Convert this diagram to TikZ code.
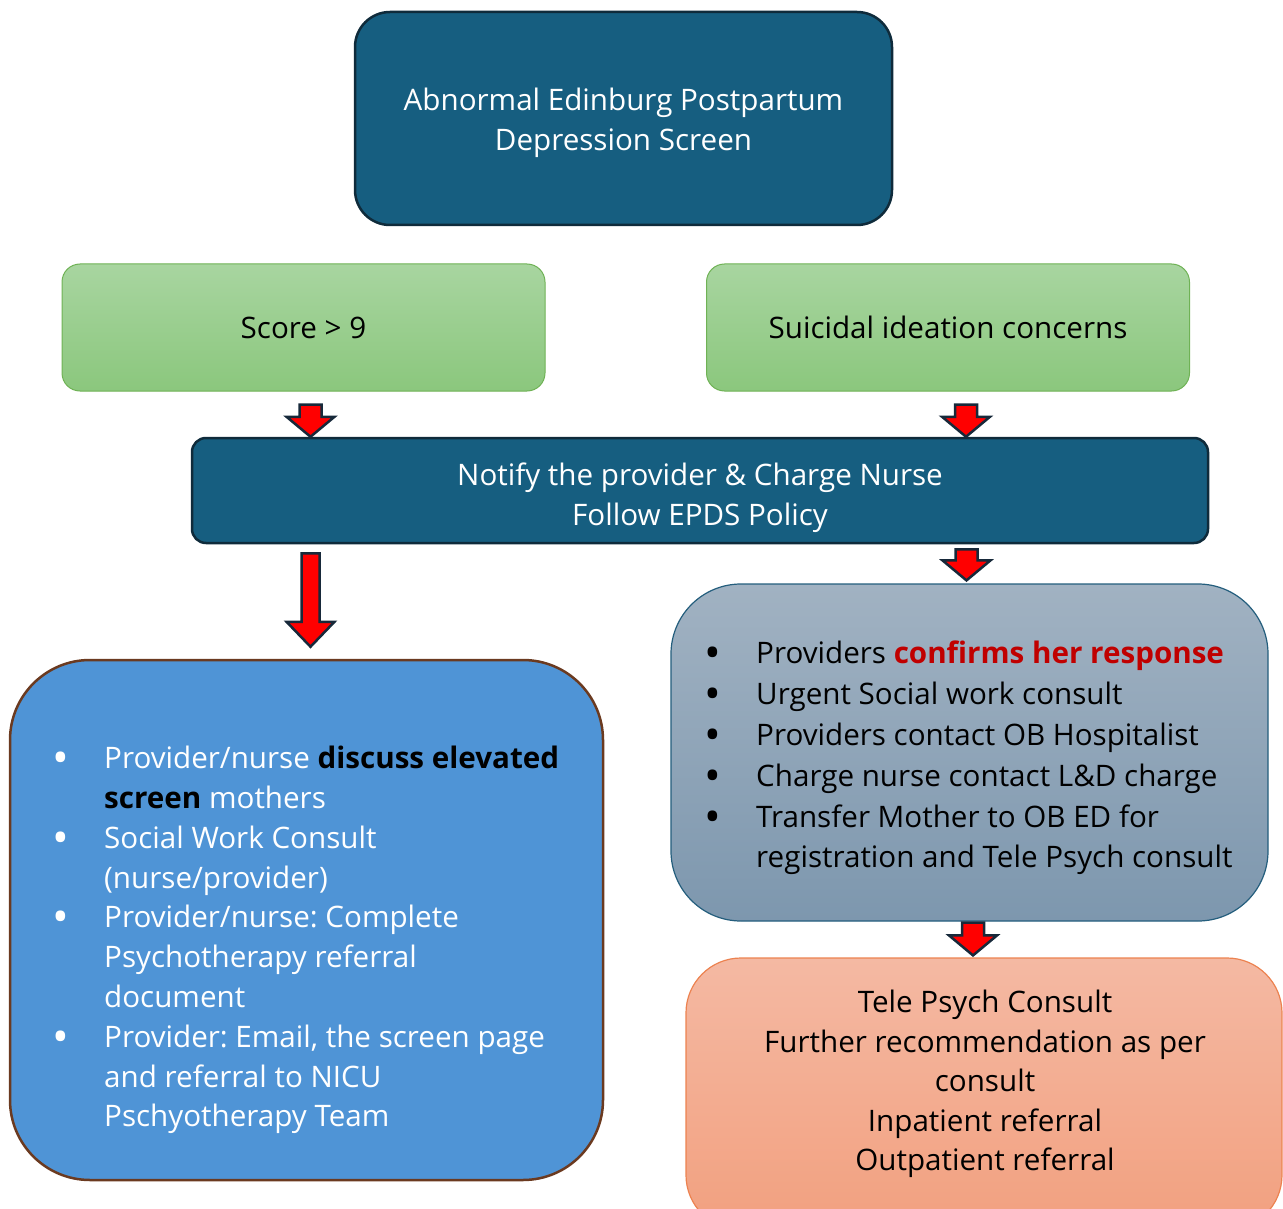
\documentclass[tikz,border=0pt]{standalone}
\usepackage{fontspec}
\setmainfont{Open Sans}
\usetikzlibrary{calc,positioning}
\frenchspacing
\definecolor{tealfill}{HTML}{165E80}
\definecolor{tealedge}{HTML}{0F2B3B}
\definecolor{greentop}{HTML}{A8D5A0}
\definecolor{greenbot}{HTML}{8BC77D}
\definecolor{greenedge}{HTML}{6FB255}
\definecolor{bluefill}{HTML}{4F94D6}
\definecolor{brownedge}{HTML}{6B3A20}
\definecolor{greytop}{HTML}{A1B2C2}
\definecolor{greybot}{HTML}{7D97AE}
\definecolor{greyedge}{HTML}{245E7D}
\definecolor{salmontop}{HTML}{F4B9A3}
\definecolor{salmonbot}{HTML}{F2A07F}
\definecolor{salmonedge}{HTML}{EC8250}
\definecolor{arrowedge}{HTML}{17293A}
\definecolor{alertred}{HTML}{C00000}
\newcommand{\boxfont}{\fontsize{29.6}{39.5}\selectfont}
\newcommand{\bul}{\llap{\raisebox{-5pt}{\scalebox{1.5}{\textbullet}}\hspace{35pt}}}
\tikzset{
    darkbox/.style = {draw=tealedge, line width=2.5pt, fill=tealfill,
        text=white, align=center, font=\boxfont},
    greenbox/.style = {draw=greenedge, line width=1pt,
        top color=greentop, bottom color=greenbot,
        rounded corners=18pt, minimum width=483pt, minimum height=127pt,
        font=\boxfont},
    listtext/.style = {align=left, inner sep=0pt, anchor=north west, font=\boxfont},
    redarrow/.style = {draw=arrowedge, line width=2.5pt, fill=red, line join=miter}
}
% block arrow: start, tip, shaft half width, head length
\newcommand{\blockarrow}[4]{%
    \draw[redarrow] let \p1=(#1), \p2=(#2) in
        (\x1-#3pt,\y1) -- (\x1+#3pt,\y1) -- (\x1+#3pt,\y2+#4pt)
        -- (\x1+24pt,\y2+#4pt) -- (\x2,\y2) -- (\x1-24pt,\y2+#4pt)
        -- (\x1-#3pt,\y2+#4pt) -- cycle;}

\begin{document}
\begin{tikzpicture}[x=1pt, y=-1pt]
    \useasboundingbox (0,0) rectangle (1283,1209);
    \clip (0,0) rectangle (1283,1209);
    \node[darkbox, rounded corners=35pt, minimum width=537pt, minimum height=213pt]
        (edinburgh) at (623.5,118.5) {\rule{0pt}{31pt}Abnormal Edinburg Postpartum\\Depression Screen};
    \node[greenbox] (score) at (303.5,327.5) {Score > 9};
    \node[greenbox] (suicidal) at (948,327.5) {Suicidal ideation concerns};
    \node[darkbox, rounded corners=14pt, minimum width=1016pt, minimum height=105pt]
        (notify) at (700,490.5) {\rule{0pt}{37pt}Notify the provider \& Charge Nurse\\Follow EPDS Policy};

    \node[draw=brownedge, line width=2.5pt, fill=bluefill, rounded corners=80pt,
        minimum width=593pt, minimum height=520pt] (elevated) at (306.5,920) {};
    \node[listtext, text=white, font=\fontsize{29.6}{39.8}\selectfont] (elevatedlist) at (104,746) {%
        \bul Provider/nurse \textcolor{black}{\textbf{discuss elevated}}\\
        \textcolor{black}{\textbf{screen}} mothers\\
        \bul Social Work Consult\\
        (nurse/provider)\\
        \bul Provider/nurse: Complete\\
        Psychotherapy referral\\
        document\\
        \bul Provider: Email, the screen page\\
        and referral to NICU\\
        Pschyotherapy Team};

    \node[draw=greyedge, line width=1.2pt, top color=greytop, bottom color=greybot,
        rounded corners=70pt, minimum width=597pt, minimum height=337pt]
        (urgent) at (969.5,752.5) {};
    \node[listtext, text=black, font=\fontsize{29.6}{40.8}\selectfont] (urgentlist) at (756,641) {%
        \bul Providers \textcolor{alertred}{\textbf{confirms her response}}\\
        \bul Urgent Social work consult\\
        \bul Providers contact OB Hospitalist\\
        \bul Charge nurse contact L\&D charge\\
        \bul Transfer Mother to OB ED for\\
        registration and Tele Psych consult};

    \node[draw=salmonedge, line width=1.2pt, top color=salmontop, bottom color=salmonbot,
        rounded corners=55pt, minimum width=596pt, minimum height=272pt]
        (tele) at (984,1094) {};
    \node[align=center, inner sep=0pt, anchor=north, font=\boxfont] (teletext)
        at (985,990) {Tele Psych Consult\\Further recommendation as per\\consult\\
        Inpatient referral\\Outpatient referral};

    \blockarrow{$(score.south)+(7,13)$}{$(notify.north -| score.south)+(7,0)$}{11}{20}
    \blockarrow{$(suicidal.south)+(18,13)$}{$(notify.north -| suicidal.south)+(18,0)$}{11}{20}
    \blockarrow{$(notify.south -| elevated.north)+(4,9)$}{$(elevated.north)+(4,-12)$}{9}{25}
    \blockarrow{$(notify.south -| urgent.north)+(-3,5)$}{$(urgent.north)+(-3,-3)$}{11}{20}
    \blockarrow{$(urgent.south -| tele.north)+(-11,1)$}{$(tele.north)+(-11,-2)$}{11}{20}
\end{tikzpicture}
\end{document}
